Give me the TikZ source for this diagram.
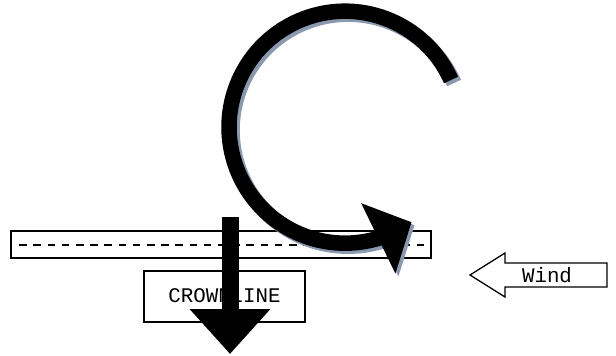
\documentclass[tikz,border=0pt]{standalone}
\usepackage{fontspec}
\setmonofont{Liberation Mono}
\usetikzlibrary{arrows.meta, bending}

\definecolor{shadowgray}{HTML}{8A99AD}

\begin{document}
\begin{tikzpicture}[x=1pt, y=-1pt,
    label text/.style={font=\ttfamily\fontsize{20.8}{24}\selectfont},
    curl/.style={line width=15.5pt, -{Triangle[length=37pt, width=76pt, flex]}},
    push/.style={line width=17pt, -{Triangle[length=45pt, width=78pt]}}]
      \useasboundingbox (0,0) rectangle (616,356);

      % limb and crown
      \node[rectangle, draw, line width=1.5pt, minimum width=420pt, minimum height=27pt, inner sep=0pt] (bar) at (221,244.5) {};
      \draw[line width=2pt, dash pattern=on 7.5pt off 6.7pt] (bar.west) ++(9,0) coordinate (d1) -- (bar.east) ++(-11,0) coordinate (d2);
      \node[rectangle, draw, line width=1.3pt, fill=white, minimum width=161pt, minimum height=51pt, inner sep=0pt, label text] (crown) at (224.5,296.5) {\raisebox{2pt}{CROWNLINE}};

      % rotation
      \coordinate (c0) at (451,80);
      \draw[curl, shadowgray] ([shift={(3,3)}]c0) arc[start angle=-24, end angle=-305, radius=116];
      \draw[curl, black] (c0) arc[start angle=-24, end angle=-305, radius=116];

      % load
      \coordinate (p0) at (230,217);
      \coordinate (p1) at (230,354);
      \draw[push] (p0) -- (p1);

      % wind
      \draw[line width=1.3pt, line join=miter] (470,275) -- (505,253) -- (505,263) -- (607,263) -- (607,287) -- (505,287) -- (505,297) -- cycle;
      \node[label text, inner sep=0pt] (wind) at (547,275) {Wind};
    \end{tikzpicture}
\end{document}
